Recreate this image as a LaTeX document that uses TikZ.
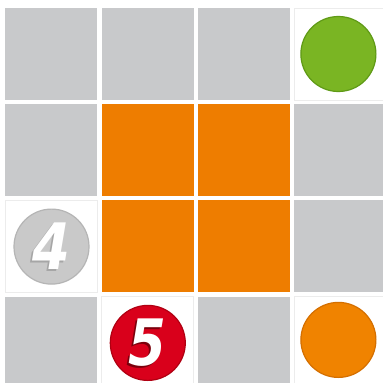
\documentclass[tikz,border=0pt]{standalone}
\usepackage{fontspec}
\setmainfont{DejaVu Sans}
\definecolor{cellgray}{HTML}{C8C9CB}
\definecolor{cellorange}{HTML}{EE7D00}
\definecolor{dotgreen}{HTML}{7AB523}
\definecolor{dotgreenrim}{HTML}{5F9A16}
\definecolor{dotorange}{HTML}{F08300}
\definecolor{dotorangerim}{HTML}{D46F00}
\definecolor{dotred}{HTML}{D9001B}
\definecolor{dotredrim}{HTML}{B00012}
\definecolor{dotgray}{HTML}{C9C9C9}
\definecolor{dotgrayrim}{HTML}{B5B5B5}
\definecolor{cellrim}{HTML}{ECECEC}
\begin{document}
\begin{tikzpicture}[x=1pt,y=-1pt,
  cellbase/.style={rectangle,minimum size=92pt,inner sep=0pt,anchor=north west},
  gcell/.style={cellbase,fill=cellgray},
  ocell/.style={cellbase,fill=cellorange},
  wcell/.style={cellbase,fill=white,draw=cellrim,line width=1pt},
  dot/.style={circle,minimum size=75pt,inner sep=0pt,line width=1.2pt},
  digit/.style={font=\fontsize{64}{64}\selectfont\bfseries\itshape,inner sep=0pt,text=white,xscale=0.85},
  digitshadow/.style={digit,text=black!35}
]
\useasboundingbox (0,0) rectangle (383,383);
\clip (0,0) rectangle (383,383);
\fill[white] (0,0) rectangle (383,383);
\foreach \r/\c/\s in {1/1/gcell,1/2/gcell,1/3/gcell,1/4/wcell,
                      2/1/gcell,2/2/ocell,2/3/ocell,2/4/gcell,
                      3/1/wcell,3/2/ocell,3/3/ocell,3/4/gcell,
                      4/1/gcell,4/2/wcell,4/3/gcell,4/4/wcell}
  \node[\s] (c\r\c) at ({5+96.3*(\c-1)},{7.5+96.3*(\r-1)}) {};
\node[dot,fill=dotgreen,draw=dotgreenrim] (g) at ([xshift=-2pt,yshift=0pt]c14.center) {};
\node[dot,fill=dotorange,draw=dotorangerim] (o) at ([xshift=-2pt,yshift=3pt]c44.center) {};
\node[dot,fill=dotgray,draw=dotgrayrim] (n4) at (c31.center) {};
\node[dot,fill=dotred,draw=dotredrim] (n5) at (c42.center) {};
\node[digitshadow] (s4) at ([xshift=-2pt,yshift=-2pt]n4.center) {4};
\node[digit] (t4) at (n4.center) {4};
\node[digitshadow,text=dotredrim!70!black] (s5) at ([xshift=-2pt,yshift=-2pt]n5.center) {5};
\node[digit] (t5) at (n5.center) {5};
\end{tikzpicture}
\end{document}
